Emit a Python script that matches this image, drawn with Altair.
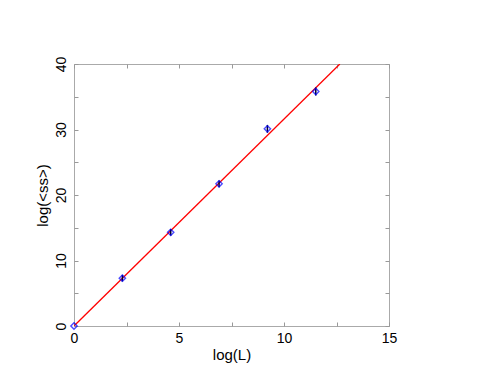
import altair as alt
import pandas as pd

# data
log_L = [0.0, 2.303, 4.605, 6.908, 9.210, 11.513]
log_ss = [0.0, 7.3, 14.3, 21.7, 30.1, 35.8]
err = [0.0, 0.5, 0.5, 0.5, 0.6, 0.6]
fit_x = [0.0, 12.66]
fit_y = [0.0, 40.0]

x_ticks = [0, 2.5, 5, 7.5, 10, 12.5, 15]
y_ticks = [0, 5, 10, 15, 20, 25, 30, 35, 40]

pts = pd.DataFrame({"x": log_L, "y": log_ss,
                    "lo": [a - b for a, b in zip(log_ss, err)],
                    "hi": [a + b for a, b in zip(log_ss, err)]})
fit = pd.DataFrame({"x": fit_x, "y": fit_y})

FONT = "Liberation Sans"
xs = alt.Scale(domain=[0, 15], nice=False, zero=False)
ys = alt.Scale(domain=[0, 40], nice=False, zero=False)

common_ax = dict(domain=False, grid=False, tickSize=4, offset=-4, tickColor="#999999",
                 tickWidth=1, labelFont=FONT, labelFontSize=14, labelColor="black",
                 labelFlush=False, labelOverlap=False,
                 titleFont=FONT, titleFontSize=15, titleFontWeight="normal", titleColor="black")

x_bottom = alt.Axis(values=x_ticks, orient="bottom", title="log(L)", labelPadding=5,
                    labelExpr="datum.value % 5 == 0 ? datum.label : ''", titlePadding=2, **common_ax)
y_left = alt.Axis(values=y_ticks, orient="left", title="log(<ss>)", labelAngle=-90,
                  labelAlign="center", labelBaseline="bottom", labelPadding=6,
                  labelExpr="datum.value % 10 == 0 ? datum.label : ''", titlePadding=4, **common_ax)
x_top = alt.Axis(values=x_ticks, orient="top", labels=False, title=None, **common_ax)
y_right = alt.Axis(values=y_ticks, orient="right", labels=False, title=None, **common_ax)

line = alt.Chart(fit).mark_line(color="#ff0000", strokeWidth=1.3, clip=True).encode(
    x=alt.X("x:Q", scale=xs, axis=x_bottom),
    y=alt.Y("y:Q", scale=ys, axis=y_left),
)

bars = alt.Chart(pts).mark_rule(color="#000033", strokeWidth=1.5).encode(
    x=alt.X("x:Q", scale=xs, axis=x_top),
    y=alt.Y("lo:Q", scale=ys, axis=y_right),
    y2="hi:Q",
)

points = alt.Chart(pts).mark_point(shape="diamond", color="#0000ff", size=40,
                                   strokeWidth=1.4, filled=False).encode(
    x=alt.X("x:Q", scale=xs, axis=None),
    y=alt.Y("y:Q", scale=ys, axis=None),
)

chart = alt.layer(line, bars, points).resolve_axis(
    x="independent", y="independent"
).properties(
    width=315, height=262,
    padding={"left": 66, "top": 56, "right": 97, "bottom": 48},
    autosize=alt.AutoSizeParams(type="none"),
).configure_view(stroke="#aaaaaa", strokeWidth=1)

chart.save("out.html", embed_options={"renderer": "svg", "actions": False})
